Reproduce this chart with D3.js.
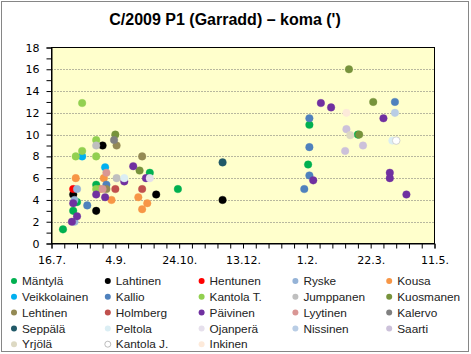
<!DOCTYPE html>
<html>
<head>
<meta charset="utf-8">
<script src="https://cdn.jsdelivr.net/npm/d3@7"></script>
<style>
  body { margin: 0; background: #fff; }
  svg { display: block; }
</style>
</head>
<body>
<div id="chart"></div>
<script>
// observers in legend order, with their marker colours
const observers = ["Mäntylä", "Lahtinen", "Hentunen", "Ryske", "Kousa",
  "Veikkolainen", "Kallio", "Kantola T.", "Jumppanen", "Kuosmanen",
  "Lehtinen", "Holmberg", "Päivinen", "Lyytinen", "Kalervo",
  "Seppälä", "Peltola", "Ojanperä", "Nissinen", "Saarti",
  "Yrjölä", "Kantola J.", "Inkinen"];
const colors = ["#00B050", "#000000", "#FF0000", "#95B3D7", "#F79646",
  "#00B0F0", "#4F81BD", "#92D050", "#BFBFBF", "#77933C",
  "#948A54", "#C0504D", "#7030A0", "#D99694", "#808080",
  "#215968", "#DBEEF4", "#E6E0EC", "#B9CDE5", "#CCC1DA",
  "#DDD9C3", "#FFFFFF", "#FDEADA"];

// coma diameter (arcmin) per observation date
const mantyla = [["2011-07-25", 1.3], ["2011-08-02", 3.0], ["2011-08-05", 3.8], ["2011-08-20", 5.4],
  ["2011-10-01", 6.5], ["2011-10-23", 5.0], ["2012-02-02", 7.25], ["2012-02-03", 10.9], ["2012-03-12", 10.0]];
const lahtinen = [["2011-08-02", 4.5], ["2011-08-20", 3.0], ["2011-08-25", 9.0], ["2011-10-06", 4.5], ["2011-11-27", 4.0]];
const hentunen = [["2011-08-02", 5.0]];
const ryske = [["2011-08-05", 5.0], ["2011-08-03", 4.0], ["2011-08-03", 2.0]];
const kousa = [["2011-08-04", 6.0], ["2011-08-26", 6.0], ["2011-08-23", 5.0], ["2011-09-01", 4.0],
  ["2011-09-22", 4.25], ["2011-09-25", 3.15], ["2011-09-29", 3.7]];
const veikkolainen = [["2011-08-09", 8.0], ["2011-08-27", 7.0]];
const kallio = [["2011-08-13", 3.5], ["2011-08-28", 5.4], ["2012-01-30", 5.0], ["2012-02-03", 11.5],
  ["2012-02-03", 8.85], ["2012-02-03", 6.25], ["2012-04-10", 13.0]];
const kantolaT = [["2011-08-04", 8.0], ["2011-08-09", 8.5], ["2011-08-09", 12.9], ["2011-08-20", 8.0],
  ["2011-08-20", 9.5], ["2011-08-20", 5.0]];
const jumppanen = [["2011-08-20", 9.0], ["2011-09-05", 6.0]];
const kuosmanen = [["2011-09-04", 10.0], ["2011-09-23", 6.7], ["2012-03-05", 16.0], ["2012-03-13", 10.0], ["2012-03-24", 13.0]];
const lehtinen = [["2011-09-05", 9.0], ["2011-09-25", 8.0], ["2011-08-28", 5.0]];
const holmberg = [["2011-09-04", 5.0], ["2011-09-25", 5.0]];
const paivinen = [["2011-08-01", 2.0], ["2011-08-05", 2.5], ["2011-08-02", 3.7], ["2011-08-20", 4.5],
  ["2011-08-27", 4.25], ["2011-09-11", 5.7], ["2011-09-18", 7.1], ["2011-09-28", 6.0],
  ["2012-02-06", 5.8], ["2012-02-12", 12.9], ["2012-02-20", 12.5], ["2012-04-01", 11.5],
  ["2012-04-06", 6.5], ["2012-04-06", 6.0], ["2012-04-19", 4.5]];
const lyytinen = [["2011-08-28", 6.5], ["2011-08-25", 5.0]];
const kalervo = [["2011-09-03", 9.5]];
const seppala = [["2011-11-27", 7.45]];
const peltola = [["2011-09-11", 6.0], ["2012-04-08", 9.45]];
const ojanpera = [["2011-10-01", 6.0]];
const nissinen = [["2012-04-10", 12.0]];
const saarti = [["2012-03-02", 8.5], ["2012-03-03", 10.5], ["2012-03-16", 9.0]];
const yrjola = [["2012-03-06", 9.95]];
const kantolaJ = [["2012-04-11", 9.45]];
const inkinen = [["2012-03-03", 12.0]];

const seriesData = [mantyla, lahtinen, hentunen, ryske, kousa, veikkolainen, kallio, kantolaT,
  jumppanen, kuosmanen, lehtinen, holmberg, paivinen, lyytinen, kalervo, seppala, peltola,
  ojanpera, nissinen, saarti, yrjola, kantolaJ, inkinen];

const yTicks = [0, 2, 4, 6, 8, 10, 12, 14, 16, 18];
const xStart = "2011-07-16", xEnd = "2012-05-11";

const W = 471, H = 354;
const plot = {left: 51.5, right: 434.5, top: 47.5, bottom: 243.5};
const parse = d3.utcParse("%Y-%m-%d");

const svg = d3.select("#chart").append("svg")
  .attr("width", W).attr("height", H);

// chart border
svg.append("rect")
  .attr("x", 1.5).attr("y", 1.5).attr("width", 467).attr("height", 350)
  .attr("fill", "#fff").attr("stroke", "#868686");

svg.append("text")
  .attr("x", 225).attr("y", 25)
  .attr("text-anchor", "middle")
  .style("font-family", "'Liberation Sans', Arial, sans-serif")
  .style("font-weight", "bold").style("font-size", "16px")
  .text("C/2009 P1 (Garradd) – koma (')");

const x = d3.scaleUtc()
  .domain([parse(xStart), parse(xEnd)])
  .range([plot.left, plot.right]);
const y = d3.scaleLinear()
  .domain([0, 18])
  .range([plot.bottom, plot.top]);

// plot area
svg.append("rect")
  .attr("x", plot.left).attr("y", plot.top)
  .attr("width", plot.right - plot.left).attr("height", plot.bottom - plot.top)
  .attr("fill", "#FFFFCC");

// dotted gridlines
svg.append("g").selectAll("line")
  .data(yTicks.slice(1, -1))
  .join("line")
  .attr("x1", plot.left).attr("x2", plot.right)
  .attr("y1", d => Math.round(y(d)) + 0.5).attr("y2", d => Math.round(y(d)) + 0.5)
  .attr("stroke", "#707070").attr("stroke-dasharray", "1,2");

svg.append("rect")
  .attr("x", plot.left).attr("y", plot.top)
  .attr("width", plot.right - plot.left).attr("height", plot.bottom - plot.top)
  .attr("fill", "none").attr("stroke", "#000");

// Y axis
const yAxis = svg.append("g")
  .attr("transform", `translate(${plot.left},0)`)
  .call(d3.axisLeft(y).tickValues(d3.range(0, 19, 1)).tickSize(5)
    .tickFormat(d => d % 2 === 0 ? d : ""));
yAxis.select(".domain").attr("stroke", "#000");
yAxis.selectAll("text")
  .attr("x", -12)
  .style("font-family", "'DejaVu Sans', Verdana, sans-serif").style("font-size", "11px")
  .attr("fill", "#000");

// X axis: minor ticks every 10 days, labels every 50
const xTickVals = d3.utcDay.range(parse(xStart), d3.utcDay.offset(parse(xEnd), 1), 10);
const fmt = d3.utcFormat("%-d.%-m.");
const xAxis = svg.append("g")
  .attr("transform", `translate(0,${plot.bottom})`)
  .call(d3.axisBottom(x).tickValues(xTickVals).tickSize(5)
    .tickFormat((d, i) => i % 5 === 0 ? fmt(d) : ""));
xAxis.select(".domain").attr("stroke", "#000");
xAxis.selectAll("text")
  .attr("y", 13)
  .style("font-family", "'DejaVu Sans', Verdana, sans-serif").style("font-size", "11px")
  .attr("fill", "#000");

// points, one series after another like the original
seriesData.forEach((pts, i) => {
  svg.append("g").selectAll("circle")
    .data(pts)
    .join("circle")
    .attr("cx", d => x(parse(d[0])))
    .attr("cy", d => y(d[1]))
    .attr("r", 3.8)
    .attr("fill", colors[i])
    .attr("stroke", colors[i] === "#FFFFFF" ? "#C8C8C8" : colors[i])
    .attr("stroke-opacity", colors[i] === "#FFFFFF" ? 1 : 0.45)
    .attr("stroke-width", 0.8);
});

// legend, 5 columns
const legend = svg.append("g");
const item = legend.selectAll("g")
  .data(observers)
  .join("g")
  .attr("transform", (d, i) => `translate(${14 + (i % 5) * 93.8},${281 + Math.floor(i / 5) * 15.8})`);
item.append("circle")
  .attr("r", 3)
  .attr("fill", (d, i) => colors[i])
  .attr("stroke", (d, i) => colors[i] === "#FFFFFF" ? "#A0A0A0" : "none")
  .attr("stroke-width", 0.7);
item.append("text")
  .attr("x", 8).attr("dy", "0.35em")
  .style("font-family", "'Liberation Sans', Arial, sans-serif").style("font-size", "11.8px")
  .attr("fill", "#222")
  .text(d => d);
</script>
</body>
</html>
